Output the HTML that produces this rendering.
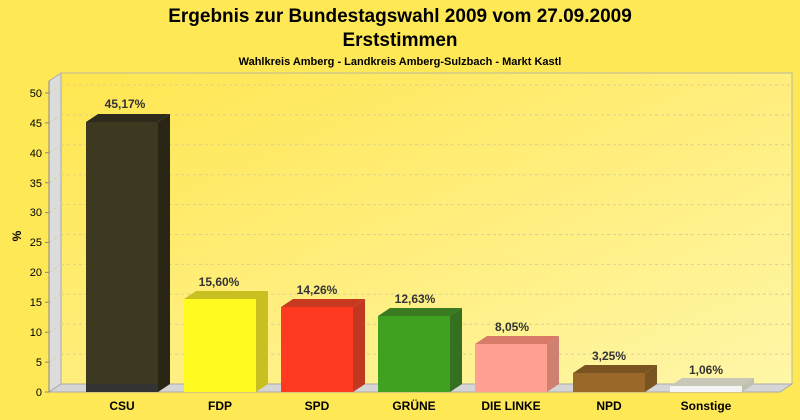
<!DOCTYPE html>
<html><head><meta charset="utf-8"><style>
html,body{margin:0;padding:0;background:#FFE856;}
svg{display:block;font-family:"Liberation Sans",Arial,sans-serif;}
</style></head><body>
<svg width="800" height="420" viewBox="0 0 800 420" xmlns="http://www.w3.org/2000/svg">
<defs>
<linearGradient id="wall" x1="0" y1="0" x2="1" y2="1">
<stop offset="0" stop-color="#FFE650"/><stop offset="1" stop-color="#FFF6A8"/>
</linearGradient>
</defs>
<rect width="800" height="420" fill="#FFE856"/>
<text x="400" y="22" text-anchor="middle" font-size="19" font-weight="bold" fill="#000">Ergebnis zur Bundestagswahl 2009 vom 27.09.2009</text>
<text x="400" y="46" text-anchor="middle" font-size="19" font-weight="bold" fill="#000">Erststimmen</text>
<text x="400" y="65" text-anchor="middle" font-size="11" font-weight="bold" fill="#000">Wahlkreis Amberg - Landkreis Amberg-Sulzbach - Markt Kastl</text>
<!-- back wall -->
<rect x="61" y="73" width="731" height="311" fill="url(#wall)" stroke="#b8b8a0" stroke-width="1"/>
<!-- left wall -->
<polygon points="49,81 61,73 61,384 49,392" fill="#dcdcdc" stroke="#aaa" stroke-width="1"/>
<!-- floor -->
<polygon points="49,392 61,384 792,384 780,392" fill="#d6d6d6" stroke="#aaa" stroke-width="1"/>
<g stroke="#d8cfa0" stroke-dasharray="3,3" stroke-width="1" fill="none">
<path d="M61,354.1H792M61,324.2H792M61,294.3H792M61,264.4H792M61,234.5H792M61,204.6H792M61,174.7H792M61,144.8H792M61,114.9H792M61,85H792"/>
<path d="M49,362.1L61,354.1M49,332.2L61,324.2M49,302.3L61,294.3M49,272.4L61,264.4M49,242.5L61,234.5M49,212.6L61,204.6M49,182.7L61,174.7M49,152.8L61,144.8M49,122.9L61,114.9M49,93L61,85"/>
</g>
<line x1="49" y1="81" x2="49" y2="392" stroke="#888"/>
<g font-size="11" fill="#000" text-anchor="end">
<text x="42" y="396">0</text><text x="42" y="366">5</text><text x="42" y="336">10</text><text x="42" y="306">15</text><text x="42" y="276">20</text><text x="42" y="246">25</text><text x="42" y="216">30</text><text x="42" y="187">35</text><text x="42" y="157">40</text><text x="42" y="127">45</text><text x="42" y="97">50</text>
</g>
<g stroke="#888"><path d="M45,392H49M45,362.1H49M45,332.2H49M45,302.3H49M45,272.4H49M45,242.5H49M45,212.6H49M45,182.7H49M45,152.8H49M45,122.9H49M45,93H49"/></g>
<text transform="translate(21,236) rotate(-90)" text-anchor="middle" font-size="12" font-weight="bold">%</text>

<!-- bars: front x, width 72, depth 12,-8 -->
<g font-size="12" font-weight="bold" fill="#333" text-anchor="middle">
<!-- CSU -->
<polygon points="86,122 98,114 170,114 158,122" fill="#2e2a1c"/>
<polygon points="158,122 170,114 170,384 158,392" fill="#2a2616"/>
<rect x="86" y="122" width="72" height="270" fill="#3d3820"/>
<rect x="86" y="384" width="72" height="8" fill="#333333"/>
<text x="125" y="108">45,17%</text>
<!-- FDP -->
<polygon points="184,299 196,291 268,291 256,299" fill="#c8c020"/>
<polygon points="256,299 268,291 268,384 256,392" fill="#c8c020"/>
<rect x="184" y="299" width="72" height="93" fill="#FFFA20"/>
<text x="219" y="286">15,60%</text>
<!-- SPD -->
<polygon points="281,307 293,299 365,299 353,307" fill="#c83a20"/>
<polygon points="353,307 365,299 365,384 353,392" fill="#c03820"/>
<rect x="281" y="307" width="72" height="85" fill="#FF3A20"/>
<text x="317" y="294">14,26%</text>
<!-- GRÜNE -->
<polygon points="378,316 390,308 462,308 450,316" fill="#3a7a20"/>
<polygon points="450,316 462,308 462,384 450,392" fill="#357020"/>
<rect x="378" y="316" width="72" height="76" fill="#40A020"/>
<text x="415" y="303">12,63%</text>
<!-- LINKE -->
<polygon points="475,344 487,336 559,336 547,344" fill="#d87a68"/>
<polygon points="547,344 559,336 559,384 547,392" fill="#d08070"/>
<rect x="475" y="344" width="72" height="48" fill="#FFA090"/>
<text x="512" y="331">8,05%</text>
<!-- NPD -->
<polygon points="573,373 585,365 657,365 645,373" fill="#7a5420"/>
<polygon points="645,373 657,365 657,384 645,392" fill="#7a5420"/>
<rect x="573" y="373" width="72" height="19" fill="#9a6828"/>
<text x="609" y="360">3,25%</text>
<!-- Sonstige -->
<polygon points="670,386 682,378 754,378 742,386" fill="#c8c8b8"/>
<polygon points="742,386 754,378 754,384 742,392" fill="#c0c0b0"/>
<rect x="670" y="386" width="72" height="6" fill="#f4f4f4"/>
<text x="706" y="374">1,06%</text>
</g>
<g font-size="12" font-weight="bold" fill="#000" text-anchor="middle">
<text x="122" y="410">CSU</text><text x="220" y="410">FDP</text><text x="317" y="410">SPD</text><text x="414" y="410">GRÜNE</text><text x="511" y="410">DIE LINKE</text><text x="609" y="410">NPD</text><text x="706" y="410">Sonstige</text>
</g>
</svg>
</body></html>
